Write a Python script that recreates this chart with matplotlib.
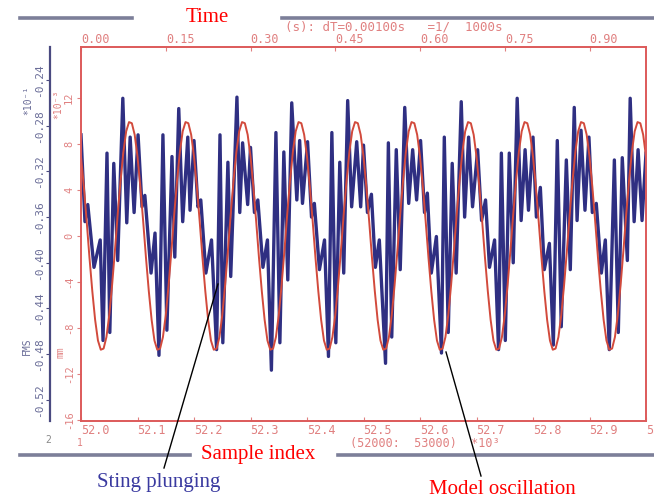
import matplotlib
matplotlib.use("Agg")
import matplotlib.pyplot as plt
from matplotlib.lines import Line2D
import numpy as np

# sample offsets (ms after sample 52000) and FMS values of the sting signal
blue_ms = [0, 7, 12, 23, 34, 39, 46, 51, 58, 65,
           74, 81, 87, 94, 101, 108, 113, 124, 131, 138, 145, 152, 161, 166,
           173, 180, 189, 193, 200, 207, 212, 221, 231, 240, 246, 251, 260, 265,
           276, 281, 286, 295, 300, 307, 313, 322, 330, 337, 345, 352, 359, 366,
           373, 382, 387, 392, 401, 408, 413, 422, 431, 438, 444, 451, 458, 465,
           472, 479, 488, 495, 500, 507, 514, 521, 528, 539, 544, 550, 558, 565,
           573, 580, 587, 594, 601, 608, 613, 620, 629, 638, 643, 650, 657, 664,
           673, 679, 686, 693, 702, 709, 716, 723, 732, 739, 744, 751, 758, 765,
           772, 779, 786, 792, 800, 806, 813, 820, 829, 836, 843, 850, 859, 866,
           873, 878, 885, 892, 899, 905, 912, 921, 928, 935, 944, 951, 958, 967,
           972, 979, 986, 993, 1000]
blue_fms = [-0.288, -0.364, -0.349, -0.404, -0.380, -0.468, -0.304, -0.461, -0.313, -0.398,
            -0.256, -0.365, -0.290, -0.356, -0.288, -0.351, -0.341, -0.409, -0.374, -0.481, -0.288, -0.459, -0.307, -0.395,
            -0.265, -0.364, -0.290, -0.354, -0.293, -0.351, -0.345, -0.409, -0.380, -0.476, -0.288, -0.470, -0.312, -0.412,
            -0.255, -0.356, -0.295, -0.349, -0.299, -0.356, -0.345, -0.404, -0.380, -0.494, -0.286, -0.470, -0.303, -0.415,
            -0.260, -0.345, -0.293, -0.348, -0.294, -0.360, -0.348, -0.406, -0.380, -0.482, -0.286, -0.470, -0.312, -0.409,
            -0.258, -0.351, -0.294, -0.351, -0.297, -0.356, -0.340, -0.404, -0.380, -0.488, -0.295, -0.465, -0.301, -0.406,
            -0.264, -0.348, -0.301, -0.345, -0.293, -0.356, -0.339, -0.409, -0.377, -0.479, -0.290, -0.461, -0.313, -0.409,
            -0.259, -0.360, -0.290, -0.351, -0.301, -0.363, -0.345, -0.404, -0.380, -0.476, -0.304, -0.468, -0.304, -0.400,
            -0.256, -0.363, -0.301, -0.354, -0.290, -0.360, -0.334, -0.406, -0.383, -0.472, -0.293, -0.456, -0.310, -0.406,
            -0.264, -0.363, -0.284, -0.354, -0.290, -0.356, -0.348, -0.409, -0.380, -0.476, -0.310, -0.461, -0.308, -0.398,
            -0.256, -0.364, -0.301, -0.363, -0.304]

# model oscillation, read every 5 ms (x 10^-3)
red_step_ms = 5
red_vals = [
    6.9, 4.3, 1.3, -1.9, -4.8, -7.3, -9.1, -9.9, -9.8, -8.8, -6.9, -4.3, -1.3, 1.9, 4.8, 7.3, 9.1, 9.9, 9.8, 8.8,
    6.9, 4.3, 1.3, -1.9, -4.8, -7.3, -9.1, -9.9, -9.8, -8.8, -6.9, -4.3, -1.3, 1.9, 4.8, 7.3, 9.1, 9.9, 9.8, 8.8,
    6.9, 4.3, 1.3, -1.9, -4.8, -7.3, -9.1, -9.9, -9.8, -8.8, -6.9, -4.3, -1.3, 1.9, 4.8, 7.3, 9.1, 9.9, 9.8, 8.8,
    6.9, 4.3, 1.3, -1.9, -4.8, -7.3, -9.1, -9.9, -9.8, -8.8, -6.9, -4.3, -1.3, 1.9, 4.8, 7.3, 9.1, 9.9, 9.8, 8.8,
    6.9, 4.3, 1.3, -1.9, -4.8, -7.3, -9.1, -9.9, -9.8, -8.8, -6.9, -4.3, -1.3, 1.9, 4.8, 7.3, 9.1, 9.9, 9.8, 8.8,
    6.9, 4.3, 1.3, -1.9, -4.8, -7.3, -9.1, -9.9, -9.8, -8.8, -6.9, -4.3, -1.3, 1.9, 4.8, 7.3, 9.1, 9.9, 9.8, 8.8,
    6.9, 4.3, 1.3, -1.9, -4.8, -7.3, -9.1, -9.9, -9.8, -8.8, -6.9, -4.3, -1.3, 1.9, 4.8, 7.3, 9.1, 9.9, 9.8, 8.8,
    6.9, 4.3, 1.3, -1.9, -4.8, -7.3, -9.1, -9.9, -9.8, -8.8, -6.9, -4.3, -1.3, 1.9, 4.8, 7.3, 9.1, 9.9, 9.8, 8.8,
    6.9, 4.3, 1.3, -1.9, -4.8, -7.3, -9.1, -9.9, -9.8, -8.8, -6.9, -4.3, -1.3, 1.9, 4.8, 7.3, 9.1, 9.9, 9.8, 8.8,
    6.9, 4.3, 1.3, -1.9, -4.8, -7.3, -9.1, -9.9, -9.8, -8.8, -6.9, -4.3, -1.3, 1.9, 4.8, 7.3, 9.1, 9.9, 9.8, 8.8,
    6.9]

start_sample = 52000
bottom_ticks = [52000, 52100, 52200, 52300, 52400, 52500, 52600, 52700, 52800, 52900, 53000]
bottom_labels = ["52.0", "52.1", "52.2", "52.3", "52.4", "52.5", "52.6", "52.7", "52.8", "52.9", "53.0"]
top_ticks = [0.0, 0.15, 0.30, 0.45, 0.60, 0.75, 0.90]
top_labels = ["0.00", "0.15", "0.30", "0.45", "0.60", "0.75", "0.90"]
red_ticks = [12, 8, 4, 0, -4, -8, -12, -16]
blue_ticks = [-0.24, -0.28, -0.32, -0.36, -0.40, -0.44, -0.48, -0.52]

W, H = 654, 497
RED = "#d24a3c"
PINK = "#e08080"
NAVY = "#2f2f82"
BLUEGRAY = "#6a6d98"
MONO = ["DejaVu Sans Mono", "DejaVu Sans"]
SERIF = ["Liberation Serif", "DejaVu Serif"]


def fx(x):
    return x / W


def fy(y):
    return 1 - y / H


fig = plt.figure(figsize=(W / 100, H / 100), dpi=100)
ax = fig.add_axes([fx(81), fy(421), 565 / W, 374 / H])
ax2 = ax.twinx()

# blue (sting) on the primary axes, its axis pushed out to the left
ax.plot(start_sample + np.array(blue_ms), blue_fms, color=NAVY, lw=2.4, solid_joinstyle="round")
ax.set_ylim(-0.5385, -0.2111)
ax.set_xlim(52000, 53000)
for s in ["top", "right", "bottom"]:
    ax.spines[s].set_visible(False)
ax.spines["left"].set_position(("outward", 22.3))
ax.spines["left"].set_color("#4a4a80")
ax.spines["left"].set_linewidth(1.6)
ax.set_yticks(blue_ticks)
ax.set_yticklabels(["%.2f" % v for v in blue_ticks], rotation=90, va="center",
                   family=MONO, fontsize=8, color=BLUEGRAY)
ax.tick_params(axis="y", length=3, width=0.8, color="#4a4a80", pad=1)

# red (model) on the twin axes, ticks at the frame
red_x = start_sample + red_step_ms * np.arange(len(red_vals))
ax2.plot(red_x, red_vals, color=RED, lw=1.4)
ax2.set_ylim(-16.1, 16.43)
ax2.yaxis.set_ticks_position("left")
ax2.yaxis.set_label_position("left")
for s in ax2.spines.values():
    s.set_color("#dd5a5a")
    s.set_linewidth(1.4)
ax2.set_yticks(red_ticks)
ax2.set_yticklabels([str(v) for v in red_ticks], rotation=90, va="center",
                    family=MONO, fontsize=7.5, color=PINK)
ax2.tick_params(axis="y", length=3, width=0.8, color=PINK, pad=2)

# bottom: sample index
ax.set_xticks(bottom_ticks)
ax.set_xticklabels(bottom_labels, family=MONO, fontsize=8.5, color=PINK, ha="left")
ax.tick_params(axis="x", direction="in", length=3, color=PINK, pad=2)

# top: time in seconds
sec = ax2.secondary_xaxis("top", functions=(lambda s: (s - start_sample) / 1000.0,
                                             lambda t: t * 1000.0 + start_sample))
sec.set_xticks(top_ticks)
sec.set_xticklabels(top_labels, family=MONO, fontsize=8.5, color=PINK, ha="left")
sec.tick_params(axis="x", direction="in", length=3, color=PINK, pad=1)
sec.spines["top"].set_visible(False)

# axis annotations
fig.text(fx(285), fy(27), "(s): dT=0.00100s   =1/  1000s", family=MONO, fontsize=9,
         color=PINK, ha="left", va="center")
fig.text(fx(350), fy(444), "(52000:  53000)  *10\u00b3", family=MONO, fontsize=8.5,
         color=PINK, ha="left", va="center")
fig.text(fx(28), fy(100), "*10\u207b\u00b9", family=MONO, fontsize=7, color=BLUEGRAY,
         rotation=90, ha="center", va="center")
fig.text(fx(58), fy(104), "*10\u207b\u00b3", family=MONO, fontsize=7, color=PINK,
         rotation=90, ha="center", va="center")
fig.text(fx(27), fy(346), "FMS", family=MONO, fontsize=7, color=BLUEGRAY,
         rotation=90, ha="center", va="center")
fig.text(fx(60), fy(352), "mm", family=MONO, fontsize=7, color=PINK,
         rotation=90, ha="center", va="center")
fig.text(fx(48), fy(440), "2", family=MONO, fontsize=7, color="#888888", ha="center", va="center")
fig.text(fx(80), fy(443), "1", family=MONO, fontsize=7, color=PINK, ha="center", va="center")

# document rules above and below the plot
for x0, x1, y in [(20, 132, 18), (282, 654, 18), (20, 190, 455), (338, 654, 455)]:
    fig.add_artist(Line2D([fx(x0), fx(x1)], [fy(y), fy(y)], transform=fig.transFigure,
                          color="#7c7f99", lw=2.6))

# captions
fig.text(fx(207), fy(17), "Time", family=SERIF, fontsize=15, color="red", ha="center", va="center")
fig.text(fx(258), fy(454), "Sample index", family=SERIF, fontsize=15, color="red",
         ha="center", va="center")
fig.text(fx(159), fy(482), "Sting plunging", family=SERIF, fontsize=15, color="#3a3aa0",
         ha="center", va="center")
fig.text(fx(502), fy(489), "Model oscillation", family=SERIF, fontsize=15, color="red",
         ha="center", va="center")
fig.add_artist(Line2D([fx(218), fx(164)], [fy(284), fy(468)], transform=fig.transFigure,
                      color="black", lw=1.0))
fig.add_artist(Line2D([fx(446), fx(481)], [fy(352), fy(476)], transform=fig.transFigure,
                      color="black", lw=1.0))

fig.savefig("out.png", dpi=100)
